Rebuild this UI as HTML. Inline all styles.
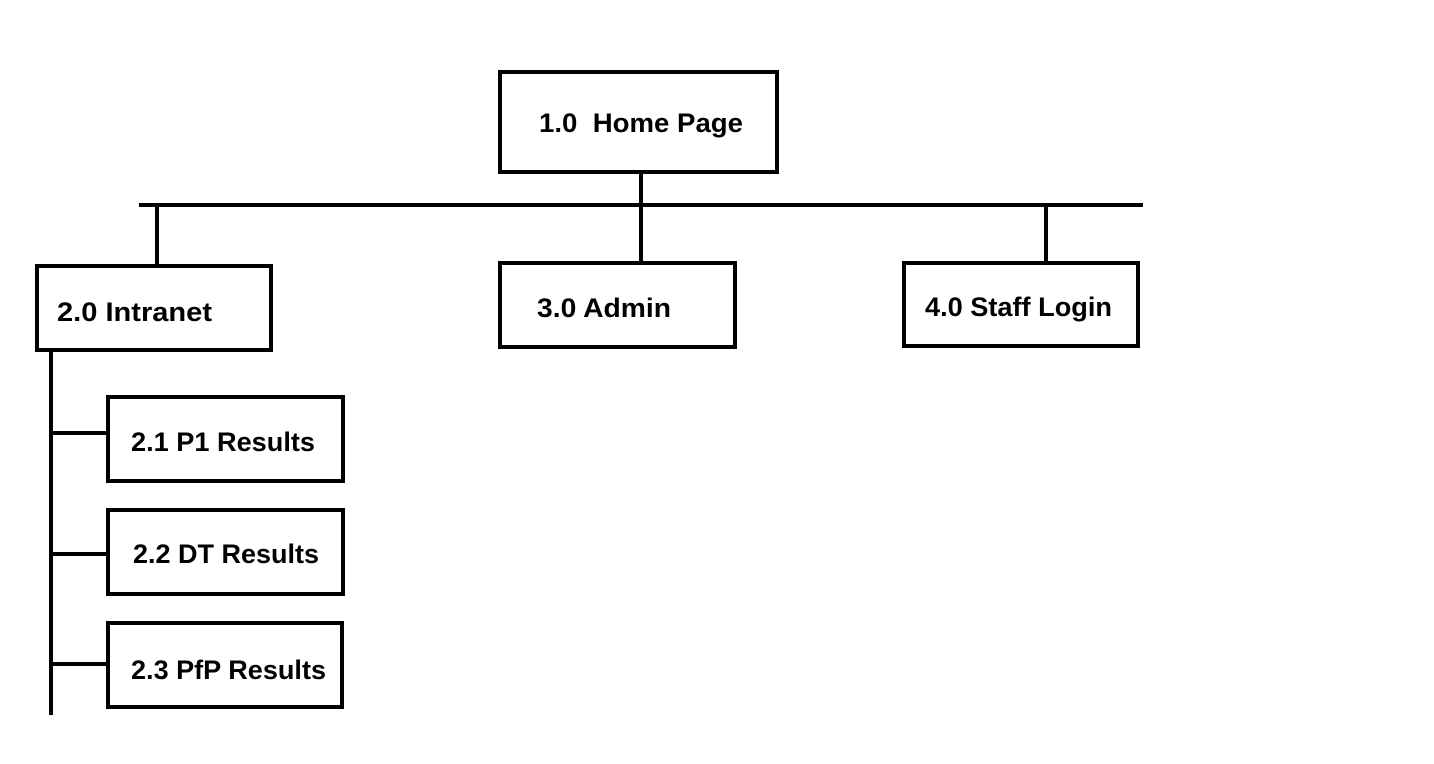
<!DOCTYPE html>
<html><head><style>body{margin:0;background:#fff}svg{display:block}</style></head>
<body>
<svg width="1434" height="764" xmlns="http://www.w3.org/2000/svg" font-family="'Liberation Sans', sans-serif" font-weight="bold" font-size="27" fill="#000">
<g stroke="#000" stroke-width="4" fill="none">
<rect x="500" y="72" width="277" height="100"/>
<line x1="139" y1="205" x2="1143" y2="205"/>
<line x1="641" y1="173" x2="641" y2="263"/>
<line x1="157" y1="205" x2="157" y2="266"/>
<line x1="1046" y1="205" x2="1046" y2="262"/>
<rect x="37" y="266" width="234" height="84"/>
<rect x="500" y="263" width="235" height="84"/>
<rect x="904" y="263" width="234" height="83"/>
<line x1="51" y1="351" x2="51" y2="715"/>
<rect x="108" y="397" width="235" height="84"/>
<rect x="108" y="510" width="235" height="84"/>
<rect x="108" y="623" width="234" height="84"/>
<line x1="51" y1="433" x2="108" y2="433"/>
<line x1="51" y1="554" x2="108" y2="554"/>
<line x1="51" y1="664" x2="108" y2="664"/>
</g>
<g stroke="none">
<text x="539" y="132" textLength="204" lengthAdjust="spacingAndGlyphs" xml:space="preserve">1.0  Home Page</text>
<text x="57" y="321" textLength="155" lengthAdjust="spacingAndGlyphs">2.0 Intranet</text>
<text x="537" y="317" textLength="134" lengthAdjust="spacingAndGlyphs">3.0 Admin</text>
<text x="925" y="316" textLength="187" lengthAdjust="spacingAndGlyphs">4.0 Staff Login</text>
<text x="131" y="451" textLength="184" lengthAdjust="spacingAndGlyphs">2.1 P1 Results</text>
<text x="133" y="563" textLength="186" lengthAdjust="spacingAndGlyphs">2.2 DT Results</text>
<text x="131" y="679" textLength="195" lengthAdjust="spacingAndGlyphs">2.3 PfP Results</text>
</g>
</svg>
</body></html>
